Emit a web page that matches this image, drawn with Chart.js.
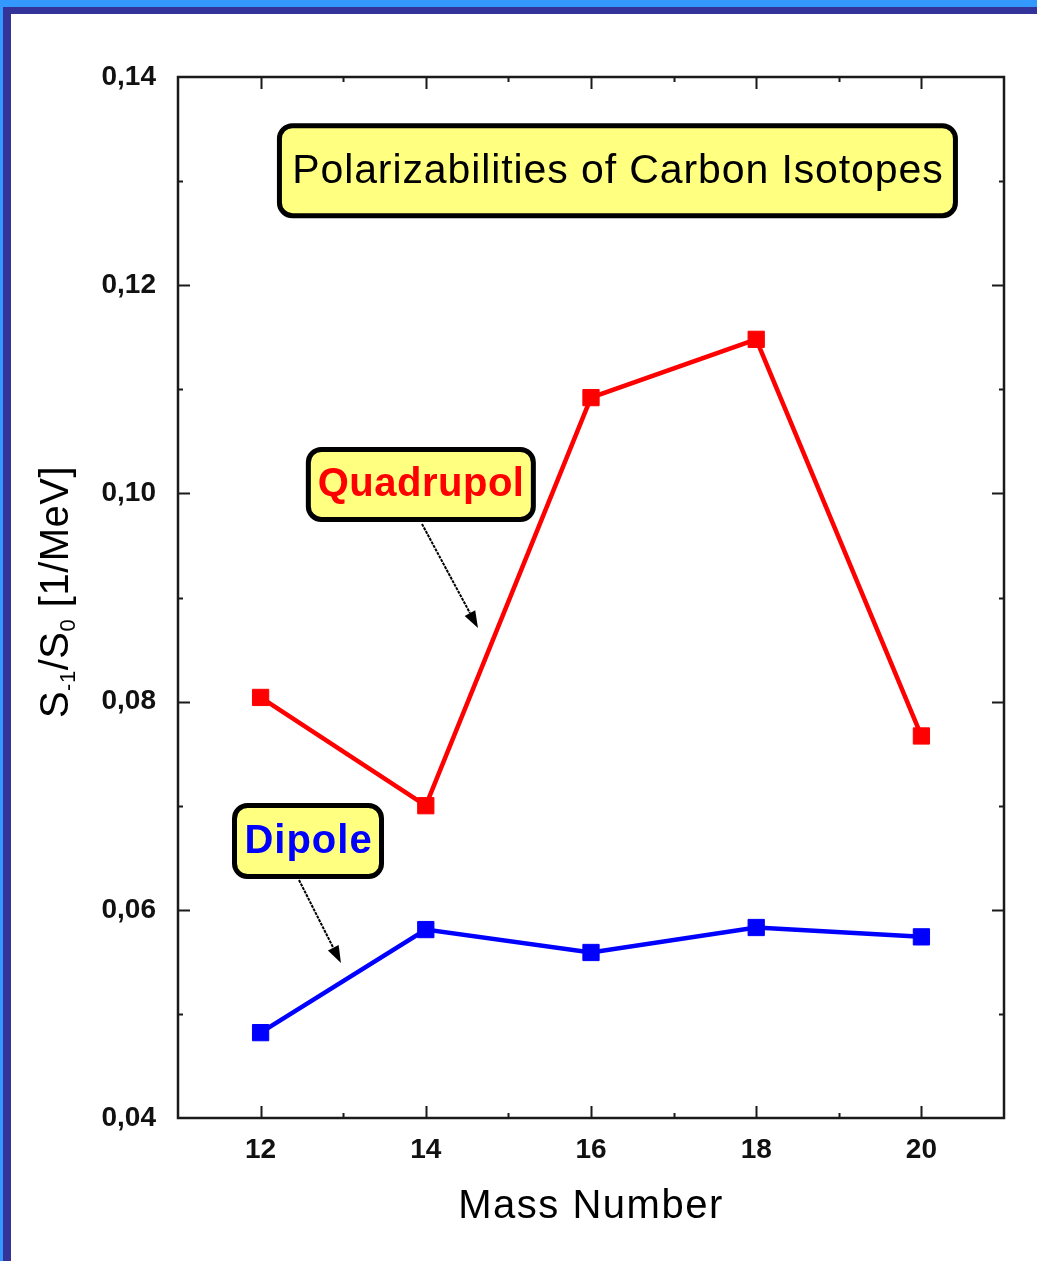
<!DOCTYPE html>
<html>
<head>
<meta charset="utf-8">
<script src="https://cdn.jsdelivr.net/npm/chart.js@4"></script>
<style>
  html, body { margin: 0; padding: 0; background: #fff; }
  #wrap { position: relative; width: 1037px; height: 1261px; overflow: hidden; background: #fff; }
  #chart { position: absolute; left: 0; top: 0; }
  .edge { position: absolute; }
</style>
</head>
<body>
<div id="wrap">
  <canvas id="chart" width="1037" height="1261"></canvas>
  <div class="edge" style="left:0;top:0;width:1037px;height:7px;background:#3399ff"></div>
  <div class="edge" style="left:0;top:0;width:3px;height:1261px;background:#3399ff"></div>
  <div class="edge" style="left:3px;top:7px;width:1034px;height:7px;background:#333399"></div>
  <div class="edge" style="left:3px;top:7px;width:8px;height:1254px;background:#333399"></div>
</div>
<script>
const massNumbers = [12, 14, 16, 18, 20];
const quadrupolValues = [0.0804, 0.0700, 0.1092, 0.1148, 0.0767];
const dipoleValues = [0.0482, 0.0581, 0.0559, 0.0583, 0.0574];

const xTickValues = [12, 14, 16, 18, 20];
const xMinorValues = [13, 15, 17, 19];
const yTickValues = [0.04, 0.06, 0.08, 0.10, 0.12, 0.14];
const yMinorValues = [0.05, 0.07, 0.09, 0.11, 0.13];

const chartTitle = 'Polarizabilities of Carbon Isotopes';
const xTitle = 'Mass Number';

const FONT = "'Liberation Sans', Arial, Helvetica, sans-serif";

// label boxes, anchored in data coordinates
const labelBoxes = [
  { text: chartTitle, x: 16.32, y: 0.1310, w: 681, h: 95, color: '#000', font: `41px ${FONT}`, spacing: 0.9 },
  { text: 'Quadrupol', x: 13.94, y: 0.10086, w: 230, h: 75, color: '#ff0000', font: `bold 40px ${FONT}`, spacing: 0.5 },
  { text: 'Dipole', x: 12.574, y: 0.06661, w: 152, h: 76, color: '#0000ff', font: `bold 40px ${FONT}`, spacing: 1 }
];

const arrows = [
  { from: [13.954, 0.09706], to: [14.632, 0.08707] },
  { from: [12.465, 0.06286], to: [12.973, 0.05489] }
];

function toPoints(xs, ys) {
  return xs.map((x, i) => ({ x: x, y: ys[i] }));
}

function drawLabelBox(ctx, chart, box) {
  const cx = chart.scales.x.getPixelForValue(box.x);
  const cy = chart.scales.y.getPixelForValue(box.y);
  const lw = 5;
  ctx.save();
  ctx.beginPath();
  ctx.roundRect(cx - box.w / 2 + lw / 2, cy - box.h / 2 + lw / 2, box.w - lw, box.h - lw, 13);
  ctx.fillStyle = '#ffff80';
  ctx.fill();
  ctx.lineWidth = lw;
  ctx.strokeStyle = '#000';
  ctx.stroke();
  ctx.font = box.font;
  ctx.letterSpacing = box.spacing + 'px';
  ctx.fillStyle = box.color;
  ctx.textAlign = 'center';
  ctx.textBaseline = 'middle';
  ctx.fillText(box.text, cx + box.spacing / 2, cy + 1);
  ctx.restore();
}

function drawArrow(ctx, chart, a) {
  const xs = chart.scales.x, ys = chart.scales.y;
  const x1 = xs.getPixelForValue(a.from[0]), y1 = ys.getPixelForValue(a.from[1]);
  const x2 = xs.getPixelForValue(a.to[0]), y2 = ys.getPixelForValue(a.to[1]);
  const ang = Math.atan2(y2 - y1, x2 - x1);
  const headLen = 17, headW = 6;
  ctx.save();
  ctx.strokeStyle = '#000';
  ctx.lineWidth = 2;
  ctx.setLineDash([3, 1]);
  ctx.beginPath();
  ctx.moveTo(x1, y1);
  ctx.lineTo(x2 - Math.cos(ang) * headLen, y2 - Math.sin(ang) * headLen);
  ctx.stroke();
  ctx.setLineDash([]);
  ctx.fillStyle = '#000';
  ctx.beginPath();
  ctx.moveTo(x2, y2);
  ctx.lineTo(x2 - Math.cos(ang) * headLen - Math.sin(ang) * headW, y2 - Math.sin(ang) * headLen + Math.cos(ang) * headW);
  ctx.lineTo(x2 - Math.cos(ang) * headLen + Math.sin(ang) * headW, y2 - Math.sin(ang) * headLen - Math.cos(ang) * headW);
  ctx.closePath();
  ctx.fill();
  ctx.restore();
}

const framePlugin = {
  id: 'frame',
  beforeDatasetsDraw(chart) {
    const { ctx, chartArea: a } = chart;
    const xs = chart.scales.x, ys = chart.scales.y;
    ctx.save();
    ctx.strokeStyle = '#1a1a1a';
    ctx.lineWidth = 2.5;
    ctx.strokeRect(a.left, a.top, a.right - a.left, a.bottom - a.top);
    ctx.lineWidth = 2;
    ctx.beginPath();
    const tick = (vals, len, horiz) => {
      vals.forEach(v => {
        if (horiz) {
          const px = Math.round(xs.getPixelForValue(v)) + 0.5;
          ctx.moveTo(px, a.bottom); ctx.lineTo(px, a.bottom - len);
          ctx.moveTo(px, a.top); ctx.lineTo(px, a.top + len);
        } else {
          const py = Math.round(ys.getPixelForValue(v)) + 0.5;
          ctx.moveTo(a.left, py); ctx.lineTo(a.left + len, py);
          ctx.moveTo(a.right, py); ctx.lineTo(a.right - len, py);
        }
      });
    };
    tick(xTickValues, 12, true);
    tick(xMinorValues, 5, true);
    tick(yTickValues.slice(1, -1), 12, false);
    tick(yMinorValues, 5, false);
    ctx.stroke();
    ctx.restore();
  },
  afterDatasetsDraw(chart) {
    const ctx = chart.ctx;
    arrows.forEach(a => drawArrow(ctx, chart, a));
    labelBoxes.forEach(b => drawLabelBox(ctx, chart, b));
  },
  afterDraw(chart) {
    const { ctx, chartArea: a } = chart;
    ctx.save();
    // x axis title
    ctx.font = `40px ${FONT}`;
    ctx.letterSpacing = '1.5px';
    ctx.fillStyle = '#000';
    ctx.textAlign = 'center';
    ctx.textBaseline = 'alphabetic';
    ctx.fillText(xTitle, (a.left + a.right) / 2, 1218);

    // y axis title with subscripts, rotated
    const parts = [
      { t: 'S', size: 40, dy: 0 },
      { t: '-1', size: 22, dy: 7 },
      { t: '/S', size: 40, dy: 0 },
      { t: '0', size: 22, dy: 7 },
      { t: ' [1/MeV]', size: 40, dy: 0 }
    ];
    ctx.letterSpacing = '0.5px';
    ctx.textAlign = 'left';
    let total = 0;
    parts.forEach(p => { ctx.font = `${p.size}px ${FONT}`; p.w = ctx.measureText(p.t).width; total += p.w; });
    ctx.translate(68, 592);
    ctx.rotate(-Math.PI / 2);
    let x = -total / 2;
    parts.forEach(p => {
      ctx.font = `${p.size}px ${FONT}`;
      ctx.fillText(p.t, x, p.dy);
      x += p.w;
    });
    ctx.restore();
  }
};

new Chart(document.getElementById('chart'), {
  type: 'line',
  data: {
    datasets: [
      {
        label: 'Quadrupol',
        data: toPoints(massNumbers, quadrupolValues),
        borderColor: '#ff0000',
        backgroundColor: '#ff0000',
        borderWidth: 4.5,
        pointStyle: 'rect',
        pointRadius: 11.5,
        pointBorderWidth: 1,
        pointBackgroundColor: '#ff0000',
        tension: 0
      },
      {
        label: 'Dipole',
        data: toPoints(massNumbers, dipoleValues),
        borderColor: '#0000ff',
        backgroundColor: '#0000ff',
        borderWidth: 4.5,
        pointStyle: 'rect',
        pointRadius: 11.5,
        pointBorderWidth: 1,
        pointBackgroundColor: '#0000ff',
        tension: 0
      }
    ]
  },
  options: {
    responsive: false,
    animation: false,
    devicePixelRatio: 1,
    layout: { padding: { left: 0, right: 33, top: 77, bottom: 0 } },
    plugins: { legend: { display: false }, tooltip: { enabled: false } },
    scales: {
      x: {
        type: 'linear',
        min: 11,
        max: 21,
        grid: { display: false, drawTicks: false },
        border: { display: false },
        afterBuildTicks: s => { s.ticks = xTickValues.map(v => ({ value: v })); },
        afterFit: s => { s.height = 143; },
        ticks: {
          padding: 15,
          color: '#111',
          font: { family: FONT, size: 28, weight: 'bold' },
          callback: v => String(v)
        }
      },
      y: {
        min: 0.04,
        max: 0.14,
        grid: { display: false, drawTicks: false },
        border: { display: false },
        afterBuildTicks: s => { s.ticks = yTickValues.map(v => ({ value: v })); },
        afterFit: s => { s.width = 178; },
        ticks: {
          padding: 22,
          color: '#111',
          font: { family: FONT, size: 28, weight: 'bold' },
          callback: v => v.toFixed(2).replace('.', ',')
        }
      }
    }
  },
  plugins: [framePlugin]
});
</script>
</body>
</html>
